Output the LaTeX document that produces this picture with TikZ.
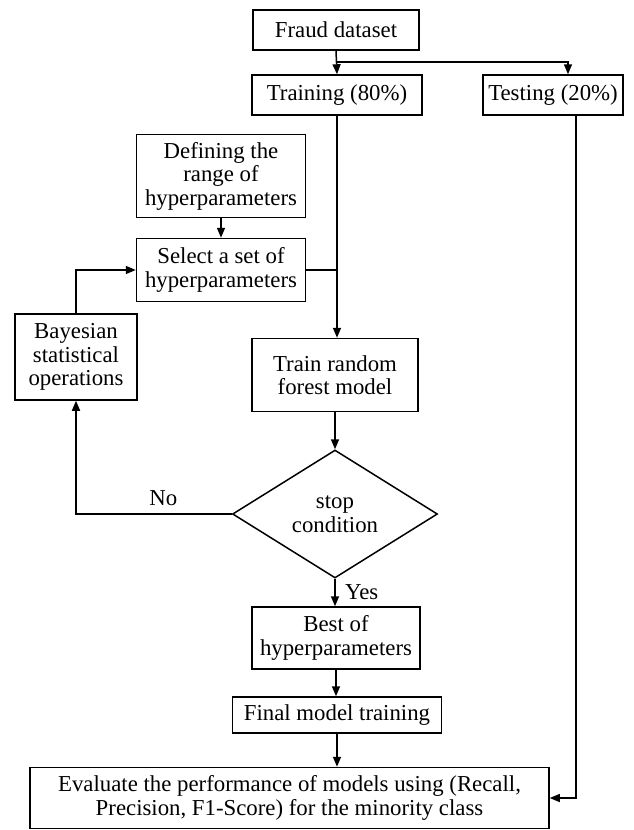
\documentclass[tikz,border=0pt]{standalone}
\usepackage{fontspec}
\setmainfont{Liberation Serif}
\usepackage{tikz}
\usetikzlibrary{shapes.geometric, arrows.meta}

\begin{document}
\begin{tikzpicture}[
    x=1pt, y=-1pt,
    >={Triangle[length=10pt, width=8pt]},
    box/.style={rectangle, draw, line width=1.5pt, align=center, inner sep=1pt, font=\fontsize{22.8}{23.5}\selectfont},
    decide/.style={diamond, draw, line width=1.5pt, align=center, inner sep=0pt, aspect=1.6, font=\fontsize{22.8}{23.5}\selectfont},
    flow/.style={->, line width=1.5pt}
]
    \useasboundingbox (0,0) rectangle (634,830);
    \node[box, minimum width=166, minimum height=40] (fraud) at (336,30) {Fraud dataset};
    \node[box, minimum width=170, minimum height=40] (train80) at (337,95) {Training (80\%)};
    \node[box, minimum width=140, minimum height=40] (test20) at (553,95) {Testing (20\%)};
    \node[box, minimum width=169, minimum height=83] (define) at (221,176) {Defining the\\ range of\\ hyperparameters};
    \node[box, minimum width=169, minimum height=63] (select) at (221,270) {Select a set of\\ hyperparameters};
    \node[box, minimum width=122, minimum height=86] (bayes) at (76,357) {Bayesian\\ statistical\\ operations};
    \node[box, minimum width=166, minimum height=73] (forest) at (335,375) {Train random\\ forest model};
    \node[decide, minimum width=205, minimum height=128] (stopc) at (335,514) {stop\\ condition};
    \node[box, minimum width=168, minimum height=62] (best) at (336,638) {Best of\\ hyperparameters};
    \node[box, minimum width=209, minimum height=36] (final) at (337,715) {Final model training};
    \node[box, minimum width=519, minimum height=61] (evaluate) at (289.5,798) {Evaluate the performance of models using (Recall,\\ Precision, F1-Score) for the minority class};
    \coordinate (split) at (336,62);
    \draw[flow] (fraud.south) -- (train80.north);
    \draw[flow] (split) -| ([xshift=15]test20.north);
    \draw[flow] (train80.south) -- (train80.south |- forest.north);
    \draw[line width=1.5pt] (select.east) -- (select.east -| train80.south);
    \draw[flow] (define.south) -- (select.north);
    \draw[flow] (bayes.north) |- (select.west);
    \draw[flow] (forest.south) -- (stopc.north);
    \draw[flow] (stopc.west) -| (bayes.south) node[pos=0.22, above, yshift=4, font=\fontsize{22.8}{23.5}\selectfont] {No};
    \draw[flow] (stopc.south) -- (stopc.south |- best.north) node[midway, right, xshift=6, font=\fontsize{22.8}{23.5}\selectfont] {Yes};
    \draw[flow] (best.south) -- (best.south |- final.north);
    \draw[flow] (final.south) -- (final.south |- evaluate.north);
    \draw[flow] ([xshift=23]test20.south) |- (evaluate.east);
\end{tikzpicture}
\end{document}
